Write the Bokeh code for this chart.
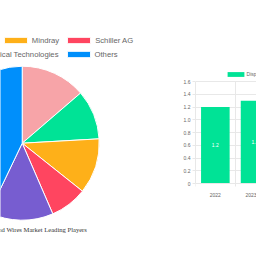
import numpy as np
from bokeh.plotting import figure
from bokeh.layouts import row
from bokeh.models import ColumnDataSource, Range1d, Legend, LegendItem, FixedTicker, Label
from bokeh.core.properties import value
from bokeh.embed import file_html
from bokeh.resources import INLINE

# ---------------- data ----------------
companies = ["Koninklijke Philips", "GE HealthCare", "Mindray", "Schiller AG",
             "Nissha Medical Technologies", "Others"]
shares = [13.7, 10.4, 11.6, 7.8, 13.6, 42.9]
slice_colors = ["#F7A4A8", "#00E396", "#FEB019", "#FF4560", "#775DD0", "#008FFB"]
pie_title = "Disposable ECG Leads and Wires Market Leading Players"

years = ["2022", "2023"]
market_size = [1.2, 1.3]
bar_series = "Disposable ECG Leads and Wires Market Size (Billion)"
bar_color = "#00E396"
y_ticks = [0, 0.2, 0.4, 0.6, 0.8, 1.0, 1.2, 1.4, 1.6]
y_tick_labels = ["0", "0.2", "0.4", "0.6", "0.8", "1.0", "1.2", "1.4", "1.6"]

FONT = "Liberation Sans"
GRID = "#e8e8e8"
TXT = "#666666"

# ---------------- pie ----------------
frac = np.array(shares) / np.sum(shares)
ends = np.cumsum(frac) * 2 * np.pi
starts = ends - frac * 2 * np.pi
pie_src = ColumnDataSource(dict(
    name=companies, share=shares, color=slice_colors,
    start=list(np.pi / 2 - starts), end=list(np.pi / 2 - ends)))

pie = figure(width=170, height=256, x_range=Range1d(-0.282, 1.926),
             y_range=Range1d(-1.471, 1.853), output_backend="svg",
             toolbar_location=None, x_axis_location=None, y_axis_location=None,
             min_border=0, outline_line_color=None)
pie.grid.visible = False
wr = pie.wedge(x=0, y=0, radius=1, start_angle="start", end_angle="end",
               direction="clock", fill_color="color", line_color="white",
               line_width=1, source=pie_src)

def make_legend(idx, loc):
    return Legend(items=[LegendItem(label=companies[i], renderers=[wr], index=i) for i in idx],
                  location=loc, orientation="horizontal", glyph_width=29, glyph_height=8,
                  label_height=8, label_width=1, label_standoff=2, spacing=5,
                  padding=0, margin=0, border_line_color=None, background_fill_alpha=0,
                  label_text_font_size="7.7px", label_text_color=TXT,
                  label_text_font=FONT)

pie.add_layout(make_legend([2, 3], (0.8, 211.3)))
pie.add_layout(make_legend([4, 5], (-71.5, 197.3)))
pie.add_layout(Label(x=86.5, y=27, x_units="screen", y_units="screen", text=pie_title,
                     text_align="right", text_baseline="alphabetic",
                     text_font="Liberation Serif", text_font_size="6.6px",
                     text_color="#333333"))

# ---------------- bars ----------------
centers = [i + 0.5 for i in range(len(years))]
bounds = list(range(len(years) + 1))
x_end = 61 / 39.7
bar_src = ColumnDataSource(dict(x=centers, v=market_size,
                                mid=[m / 2 for m in market_size],
                                lbl=[str(m) for m in market_size]))

bar = figure(width=86, height=256, x_range=Range1d(0, x_end),
             y_range=Range1d(-73 / 63.75, 1.6 + 81 / 63.75),
             output_backend="svg", toolbar_location=None, min_border_left=25,
             min_border_right=0, min_border_top=0, min_border_bottom=0,
             outline_line_color=None)
vb = bar.vbar(x="x", top="v", width=0.72, fill_color=bar_color, line_color=None, source=bar_src)
bar.text(x="x", y="mid", text="lbl", text_color="white", text_font_size="5px",
         text_align="center", text_baseline="middle", text_font=value(FONT), source=bar_src)

xa = bar.xaxis[0]
xa.fixed_location = 0
xa.bounds = (0, x_end)
xa.ticker = FixedTicker(ticks=centers, minor_ticks=bounds)
xa.major_label_overrides = {c: y for c, y in zip(centers, years)}
xa.major_tick_line_color = None
xa.minor_tick_in = 0
xa.minor_tick_out = 3
xa.minor_tick_line_color = GRID
xa.axis_line_color = GRID
xa.major_label_standoff = 3
xa.major_label_text_font_size = "5px"
xa.major_label_text_color = TXT
xa.major_label_text_font = FONT

ya = bar.yaxis[0]
ya.bounds = (0, 1.6)
ya.ticker = FixedTicker(ticks=y_ticks)
ya.major_label_overrides = {t: l for t, l in zip(y_ticks, y_tick_labels)}
ya.major_tick_in = 0
ya.major_tick_out = 3
ya.major_tick_line_color = GRID
ya.minor_tick_line_color = None
ya.axis_line_color = GRID
ya.major_label_standoff = 2
ya.major_label_text_font_size = "5px"
ya.major_label_text_color = TXT
ya.major_label_text_font = FONT

bar.xgrid.ticker = FixedTicker(ticks=bounds)
bar.xgrid.cross_bounds = (0, 1.6)
bar.xgrid.grid_line_color = GRID
bar.ygrid.cross_bounds = (0, x_end)
bar.ygrid.grid_line_color = GRID

bar.add_layout(Legend(items=[LegendItem(label=bar_series, renderers=[vb])],
                      location=(29.6, 179.1), orientation="horizontal",
                      glyph_width=21, glyph_height=6, label_height=6, label_width=1,
                      label_standoff=1, padding=0, margin=0, border_line_color=None,
                      background_fill_alpha=0, label_text_font_size="5px",
                      label_text_color=TXT, label_text_font=FONT))

layout = row(pie, bar)
open("out.html", "w").write(file_html(layout, INLINE))
